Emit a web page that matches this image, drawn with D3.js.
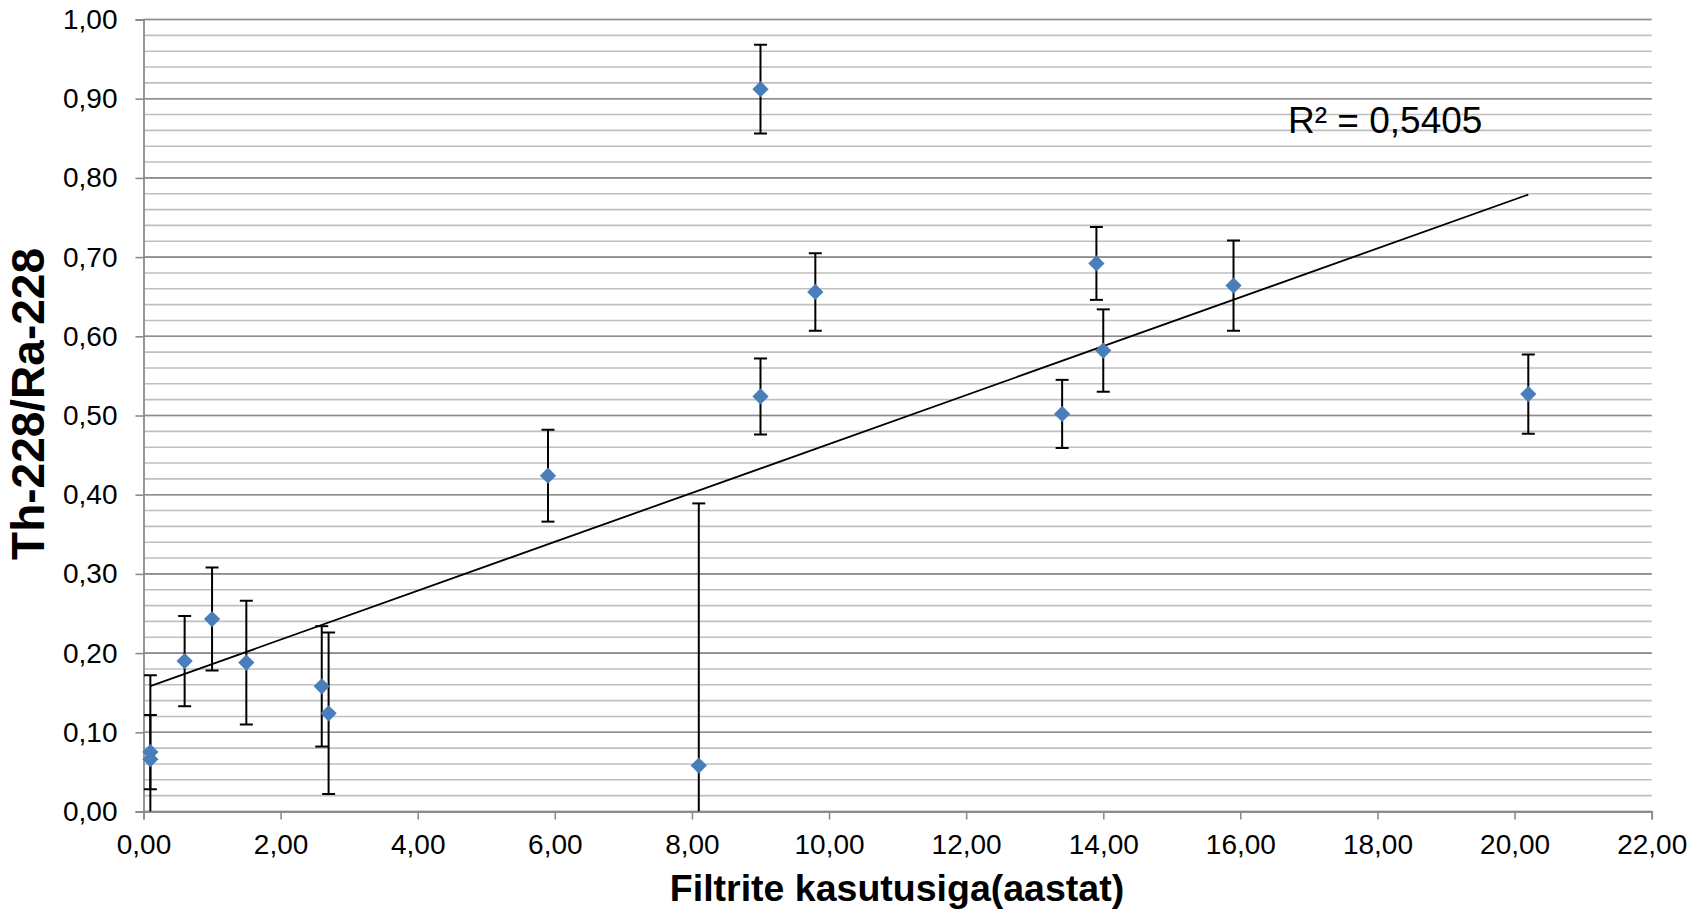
<!DOCTYPE html>
<html>
<head>
<meta charset="utf-8">
<script src="https://cdn.jsdelivr.net/npm/d3@7"></script>
<style>
  html, body { margin: 0; padding: 0; background: #ffffff; }
  svg { display: block; }
  text { font-family: "Liberation Sans", Arial, sans-serif; fill: #000; }
</style>
</head>
<body>
<svg id="chart" width="1706" height="914"></svg>
<script>
// ---- Data ----
const xValues = [0.1, 0.1, 0.6, 1.0, 1.5, 2.6, 2.7, 5.9, 8.1, 9.0, 9.0, 9.8, 13.4, 13.9, 14.0, 15.9, 20.2];
const yValues = [0.075, 0.066, 0.190, 0.243, 0.188, 0.158, 0.124, 0.424, 0.058, 0.912, 0.524, 0.656, 0.502, 0.692, 0.582, 0.664, 0.527];
const yErrors = [0.047, 0.106, 0.057, 0.065, 0.078, 0.076, 0.102, 0.058, 0.331, 0.056, 0.048, 0.049, 0.043, 0.046, 0.052, 0.057, 0.050];
const xTickValues = [0, 2, 4, 6, 8, 10, 12, 14, 16, 18, 20, 22];
const yTickValues = [0, 0.1, 0.2, 0.3, 0.4, 0.5, 0.6, 0.7, 0.8, 0.9, 1.0];
const yMinorGrid = d3.range(0, 1.0001, 0.02);
const xTitle = "Filtrite kasutusiga(aastat)";
const yTitle = "Th-228/Ra-228";
const r2Label = "R² = 0,5405";

const svg = d3.select("#chart");
const pLeft = 143.5, pRight = 1651.7, pTop = 19.5, pBottom = 811.5;
const x = d3.scaleLinear().domain([0, 22]).range([pLeft, pRight]);
const y = d3.scaleLinear().domain([0, 1]).range([pBottom, pTop]);
const fmt = v => d3.format(".2f")(v).replace(".", ",");

// clip path
svg.append("defs").append("clipPath").attr("id", "plotclip")
  .append("rect").attr("x", pLeft).attr("y", pTop - 2).attr("width", pRight - pLeft).attr("height", pBottom - pTop + 2);

// minor gridlines
svg.append("g").selectAll("line").data(yMinorGrid).join("line")
  .attr("x1", pLeft).attr("x2", pRight)
  .attr("y1", d => y(d)).attr("y2", d => y(d))
  .attr("stroke", "#bfbfbf").attr("stroke-width", 1.6);

// major gridlines
svg.append("g").selectAll("line").data(yTickValues).join("line")
  .attr("x1", pLeft).attr("x2", pRight)
  .attr("y1", d => y(d)).attr("y2", d => y(d))
  .attr("stroke", "#8c8c8c").attr("stroke-width", 1.6);

// y axis
const yAxis = d3.axisLeft(y).tickValues(yTickValues).tickSize(8).tickPadding(18).tickFormat(fmt);
const gy = svg.append("g").attr("transform", `translate(${pLeft},0)`).call(yAxis);
gy.select(".domain").attr("stroke", "#8c8c8c").attr("stroke-width", 1.8);
gy.selectAll(".tick line").attr("stroke", "#8c8c8c").attr("stroke-width", 1.6);
gy.selectAll(".tick text").attr("font-size", 28).attr("font-family", "Liberation Sans, Arial, sans-serif").attr("fill", "#000");

// x axis
const xAxis = d3.axisBottom(x).tickValues(xTickValues).tickSize(8).tickPadding(15).tickFormat(fmt);
const gx = svg.append("g").attr("transform", `translate(0,${pBottom})`).call(xAxis);
gx.select(".domain").attr("stroke", "#8c8c8c").attr("stroke-width", 1.8);
gx.selectAll(".tick line").attr("stroke", "#8c8c8c").attr("stroke-width", 1.6);
gx.selectAll(".tick text").attr("font-size", 28).attr("font-family", "Liberation Sans, Arial, sans-serif").attr("fill", "#000");

// trendline (least squares from data)
const n = xValues.length;
const mx = d3.mean(xValues), my = d3.mean(yValues);
let sxy = 0, sxx = 0;
for (let i = 0; i < n; i++) { sxy += (xValues[i] - mx) * (yValues[i] - my); sxx += (xValues[i] - mx) ** 2; }
const slope = sxy / sxx, intercept = my - slope * mx;
const xr = d3.extent(xValues);
svg.append("line")
  .attr("x1", x(xr[0])).attr("y1", y(intercept + slope * xr[0]))
  .attr("x2", x(xr[1])).attr("y2", y(intercept + slope * xr[1]))
  .attr("stroke", "#000").attr("stroke-width", 1.8);

// error bars
const pts = xValues.map((xv, i) => ({ x: xv, y: yValues[i], e: yErrors[i] }));
const eb = svg.append("g").attr("clip-path", "url(#plotclip)");
const capW = 6.5;
pts.forEach(p => {
  const yl = Math.max(0, p.y - p.e), yh = p.y + p.e;
  eb.append("line").attr("x1", x(p.x)).attr("x2", x(p.x)).attr("y1", y(yl)).attr("y2", y(yh))
    .attr("stroke", "#000").attr("stroke-width", 2);
  eb.append("line").attr("x1", x(p.x) - capW).attr("x2", x(p.x) + capW).attr("y1", y(yh)).attr("y2", y(yh))
    .attr("stroke", "#000").attr("stroke-width", 2);
  if (p.y - p.e > 0) {
    eb.append("line").attr("x1", x(p.x) - capW).attr("x2", x(p.x) + capW).attr("y1", y(yl)).attr("y2", y(yl))
      .attr("stroke", "#000").attr("stroke-width", 2);
  }
});

// markers (diamonds)
const diamond = d3.symbol().type(d3.symbolSquare).size(11.5 * 11.5);
svg.append("g").selectAll("path").data(pts).join("path")
  .attr("d", diamond)
  .attr("transform", d => `translate(${x(d.x)},${y(d.y)}) rotate(45)`)
  .attr("fill", "#4a7ebb");

// R² label
svg.append("text").attr("x", 1288).attr("y", 133).attr("font-size", 37).text(r2Label);

// axis titles
svg.append("text").attr("x", 897).attr("y", 901).attr("text-anchor", "middle")
  .attr("font-size", 37.5).attr("font-weight", "bold").text(xTitle);
svg.append("text").attr("transform", "translate(44,404) rotate(-90)").attr("text-anchor", "middle")
  .attr("font-size", 46).attr("font-weight", "bold").text(yTitle);
</script>
</body>
</html>
